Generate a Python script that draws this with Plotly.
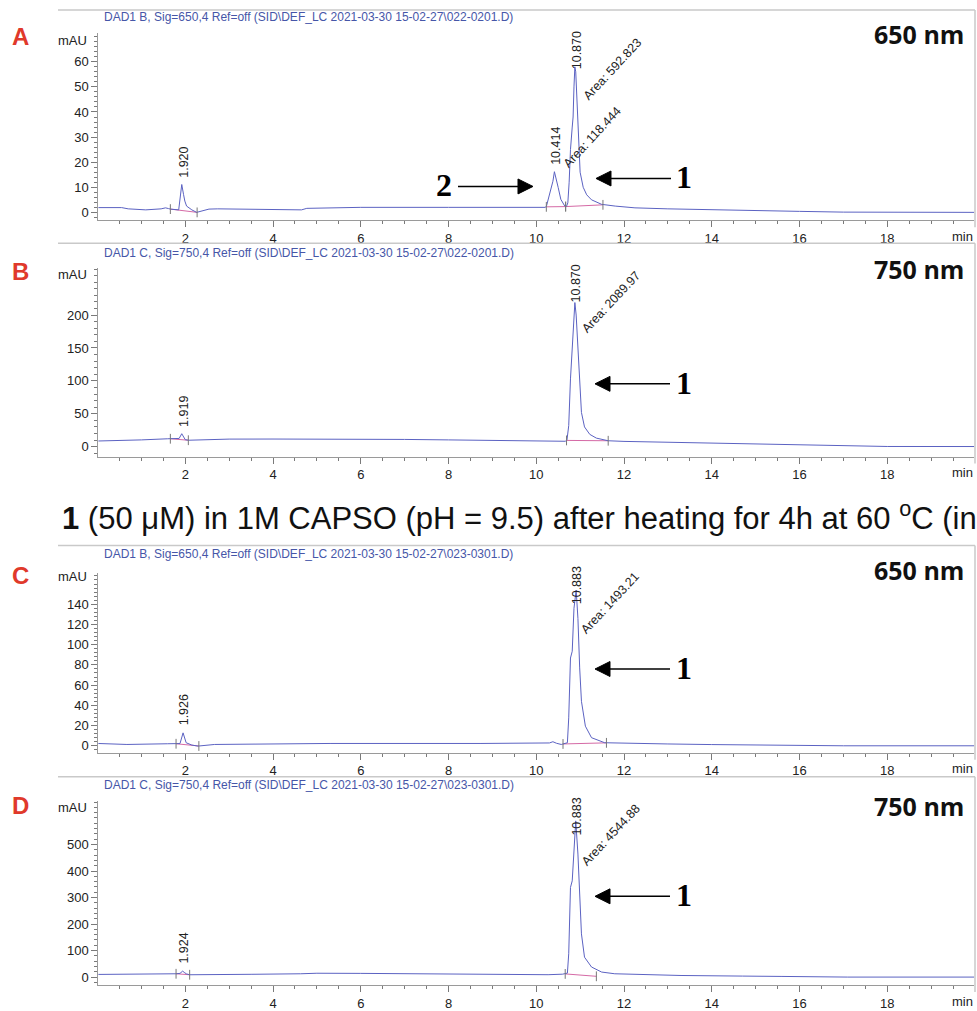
import plotly.graph_objects as go

W, H = 977, 1011

# ---------------- data ----------------
# Panel A : DAD1 B 650 nm, run 022-0201
a_time = [0.00, 0.55, 0.70, 1.10, 1.45, 1.55, 1.62, 1.66, 1.85, 1.92, 1.96, 1.99, 2.03, 2.15, 2.26, 2.35,
          2.54, 2.74, 3.90, 4.65, 4.77, 5.30, 6.00, 8.00, 10.00, 10.20, 10.23, 10.28, 10.33, 10.38, 10.414,
          10.45, 10.50, 10.56, 10.65, 10.69, 10.72, 10.75, 10.78, 10.82, 10.84, 10.86, 10.88, 10.90, 10.93,
          10.95, 10.97, 11.00, 11.07, 11.15, 11.26, 11.49, 11.80, 12.00, 12.25, 13.00, 14.00, 15.00, 16.00,
          17.00, 18.00, 20.00]
a_mau = [1.9, 1.9, 1.4, 1.0, 1.4, 1.8, 1.5, 1.3, 1.0, 11.1, 7.2, 4.5, 2.5, 1.0, 0.0, 0.4,
         1.3, 1.4, 1.0, 1.0, 1.6, 1.8, 2.0, 2.0, 2.0, 2.0, 2.3, 5.5, 9.0, 12.4, 16.2,
         14.0, 9.9, 5.2, 2.5, 2.4, 3.8, 12.0, 25.0, 34.0, 38.0, 50.0, 58.0, 56.0, 45.0,
         38.0, 25.0, 16.0, 10.0, 7.0, 5.0, 3.2, 2.5, 2.2, 1.8, 1.4, 1.0, 0.7, 0.4,
         0.1, 0.0, 0.0]

# Panel B : DAD1 C 750 nm, run 022-0201
b_time = [0.00, 0.50, 1.00, 1.60, 1.75, 1.86, 1.92, 1.96, 2.00, 2.08, 2.50, 3.00, 4.00, 5.00, 6.00,
          7.00, 8.00, 9.00, 10.00, 10.50, 10.66, 10.70, 10.74, 10.78, 10.82, 10.86, 10.88, 10.91, 10.95,
          10.99, 11.03, 11.10, 11.22, 11.37, 11.64, 12.00, 13.00, 14.00, 15.00, 16.00, 17.00, 18.00, 20.00]
b_mau = [8.6, 9.3, 10.3, 12.0, 12.0, 12.5, 19.7, 14.0, 10.6, 9.8, 10.6, 11.5, 11.6, 11.6, 11.4,
         11.0, 10.3, 9.5, 9.0, 8.5, 8.2, 10.0, 32.0, 103.0, 143.0, 189.0, 219.0, 200.0, 148.0,
         98.0, 52.0, 30.0, 18.7, 13.0, 9.0, 8.0, 6.8, 5.3, 3.8, 2.5, 1.2, 0.3, 0.2]

# Panel C : DAD1 B 650 nm, run 023-0301
c_time = [0.00, 0.67, 1.60, 1.78, 1.88, 1.95, 1.99, 2.02, 2.15, 2.29, 2.67, 3.50, 5.30, 8.74, 10.00,
          10.30, 10.38, 10.46, 10.57, 10.71, 10.74, 10.78, 10.82, 10.86, 10.91, 10.95, 10.99, 11.03,
          11.12, 11.26, 11.56, 12.00, 13.00, 14.00, 15.60, 17.00, 20.00]
c_mau = [2.3, 1.3, 2.0, 2.0, 2.2, 12.8, 7.0, 3.0, 0.7, -0.3, 1.3, 1.6, 2.3, 2.3, 2.3,
         2.8, 4.0, 2.5, 1.3, 3.0, 27.6, 86.8, 93.5, 136.0, 154.0, 126.0, 77.0, 44.0,
         19.4, 8.0, 3.0, 2.5, 1.8, 1.2, 0.3, 0.0, 0.0]

# Panel D : DAD1 C 750 nm, run 023-0301
d_time = [0.00, 0.70, 1.72, 1.79, 1.88, 1.94, 1.99, 2.03, 2.10, 2.40, 3.50, 4.63, 5.00, 6.00, 8.00,
          8.74, 10.27, 10.60, 10.71, 10.74, 10.78, 10.82, 10.86, 10.90, 10.95, 10.99, 11.03, 11.10,
          11.26, 11.49, 11.79, 13.30, 13.77, 14.70, 15.60, 17.10, 20.00]
d_mau = [10.0, 10.0, 12.5, 12.5, 14.0, 22.5, 16.0, 12.0, 8.8, 8.8, 10.5, 12.5, 14.5, 14.0, 11.0,
         10.0, 9.0, 11.0, 15.0, 88.0, 338.0, 363.0, 501.0, 589.0, 464.0, 288.0, 163.0, 75.0,
         38.0, 19.0, 12.5, 6.0, 6.0, 3.8, 2.5, 0.0, 0.0]

# integration baselines: (start min, start mAU, end min, end mAU)
a_integ = [(1.66, 1.3, 2.27, 0.0), (10.23, 2.2, 10.67, 2.3), (10.67, 2.3, 11.52, 3.0)]
b_integ = [(1.66, 12.0, 2.07, 9.8), (10.69, 9.5, 11.64, 9.0)]
c_integ = [(1.79, 2.0, 2.31, -0.2), (10.61, 1.8, 11.60, 2.9)]
d_integ = [(1.79, 12.5, 2.10, 8.8), (10.66, 12.0, 11.37, 3.0)]

# peak retention-time labels and area labels
a_rt = ["1.920", "10.414", "10.870"]
b_rt = ["1.919", "10.870"]
c_rt = ["1.926", "10.883"]
d_rt = ["1.924", "10.883"]
a_area = ["Area: 592.823", "Area: 118.444"]
b_area = ["Area: 2089.97"]
c_area = ["Area: 1493.21"]
d_area = ["Area: 4544.88"]

x_ticks = [2, 4, 6, 8, 10, 12, 14, 16, 18]
a_yticks = [0, 10, 20, 30, 40, 50, 60]
b_yticks = [0, 50, 100, 150, 200]
c_yticks = [0, 20, 40, 60, 80, 100, 120, 140]
d_yticks = [0, 100, 200, 300, 400, 500]

headers = [
    r"DAD1 B, Sig=650,4 Ref=off (SID\DEF_LC 2021-03-30 15-02-27\022-0201.D)",
    r"DAD1 C, Sig=750,4 Ref=off (SID\DEF_LC 2021-03-30 15-02-27\022-0201.D)",
    r"DAD1 B, Sig=650,4 Ref=off (SID\DEF_LC 2021-03-30 15-02-27\023-0301.D)",
    r"DAD1 C, Sig=750,4 Ref=off (SID\DEF_LC 2021-03-30 15-02-27\023-0301.D)",
]
letters = ["A", "B", "C", "D"]
wavelengths = ["650 nm", "750 nm", "650 nm", "750 nm"]
caption = "<b>1</b> (50 \u03bcM) in 1M CAPSO (pH = 9.5) after heating for 4h at 60 <sup>o</sup>C (in"

# ---------------- layout geometry (pixels) ----------------
TRACE = "#5b62c2"
PINK = "#d56aa6"
AXIS = "#9a9a9a"
TICK = "#7a7a7a"
FRAME = "#c9c9c9"
SANS = "Liberation Sans, Arial, sans-serif"
SERIF = "Liberation Serif, Times New Roman, serif"

def px2x(x):
    return x / W

def px2y(y):
    return 1 - y / H

XL, XR = 98.4, 974.1          # plot left/right pixels
XRANGE = [0.02, 19.98]

panels = [
    dict(t=a_time, v=a_mau, integ=a_integ, rt=a_rt, area=a_area, yt=a_yticks, minor=2,
         frame=10, top=33, bot=221, zero=213, scale=2.517, head=17, mau=41, letter=37, nm=34,
         rt_pos=[(1.920, 13.1), (10.414, 18.3), (10.870, 56.4)],
         area_pos=[(11.74, 57.2), (11.28, 30.2)],
         arrows=[((596, 179), -1, "1", 684)]),
    dict(t=b_time, v=b_mau, integ=b_integ, rt=b_rt, area=b_area, yt=b_yticks, minor=10,
         frame=244, top=269, bot=458, zero=448, scale=0.66, head=254, mau=275, letter=272, nm=270,
         rt_pos=[(1.919, 27.3), (10.870, 216.7)],
         area_pos=[(11.71, 219.7)],
         arrows=[((595, 385), -1, "1", 684)]),
    dict(t=c_time, v=c_mau, integ=c_integ, rt=c_rt, area=c_area, yt=c_yticks, minor=4,
         frame=547, top=575, bot=755, zero=748, scale=1.014, head=556, mau=578, letter=577, nm=572,
         rt_pos=[(1.926, 17.8), (10.883, 138.0)],
         area_pos=[(11.69, 141.0)],
         arrows=[((595, 671), -1, "1", 684)]),
    dict(t=d_time, v=d_mau, integ=d_integ, rt=d_rt, area=d_area, yt=d_yticks, minor=20,
         frame=779, top=803, bot=988, zero=980, scale=0.266, head=787, mau=810, letter=808, nm=808,
         rt_pos=[(1.924, 45.0), (10.883, 526.0)],
         area_pos=[(11.71, 534.0)],
         arrows=[((595, 899), -1, "1", 684)]),
]
# arrow for compound 2 in panel A (points right)
panels[0]["arrows"].append(((533, 187), 1, "2", 444))

fig = go.Figure()
layout = dict(width=W, height=H, margin=dict(l=0, r=0, t=0, b=0), autosize=False,
              paper_bgcolor="white", plot_bgcolor="white", showlegend=False)
annotations = []
shapes = []

ARROW_LEN = 75
HEAD_LEN = 15
HEAD_HALF = 7.5

for i, p in enumerate(panels, start=1):
    xa = "x" if i == 1 else f"x{i}"
    ya = "y" if i == 1 else f"y{i}"
    xkey = "xaxis" if i == 1 else f"xaxis{i}"
    ykey = "yaxis" if i == 1 else f"yaxis{i}"

    for (s, ys, e, ye) in p["integ"]:
        fig.add_trace(go.Scatter(x=[s, e], y=[ys, ye], mode="lines", xaxis=xa, yaxis=ya,
                                 line=dict(color=PINK, width=1), hoverinfo="skip"))
    fig.add_trace(go.Scatter(x=p["t"], y=p["v"], mode="lines", xaxis=xa, yaxis=ya,
                             line=dict(color=TRACE, width=1), hoverinfo="skip"))
    ev_x = [s for (s, ys, e, ye) in p["integ"]] + [e for (s, ys, e, ye) in p["integ"]]
    ev_y = [ys for (s, ys, e, ye) in p["integ"]] + [ye for (s, ys, e, ye) in p["integ"]]
    fig.add_trace(go.Scatter(x=ev_x, y=ev_y, mode="markers", xaxis=xa, yaxis=ya, hoverinfo="skip",
                             marker=dict(symbol="line-ns", size=7, color="#777",
                                         line=dict(color="#777", width=1))))

    yr = [(p["zero"] - p["bot"]) / p["scale"], (p["zero"] - p["top"]) / p["scale"]]
    layout[xkey] = dict(domain=[XL / W, XR / W], range=XRANGE, anchor=ya,
                        showline=True, linecolor=AXIS, linewidth=1, mirror=False,
                        ticks="outside", ticklen=6, tickwidth=1, tickcolor=TICK,
                        tickmode="array", tickvals=x_ticks, ticktext=[str(v) for v in x_ticks],
                        tickfont=dict(family=SANS, size=13, color="#222"),
                        showgrid=False, zeroline=False, fixedrange=True,
                        minor=dict(tickmode="linear", tick0=0, dtick=0.5, ticks="outside",
                                   ticklen=3, tickwidth=1, tickcolor=TICK, showgrid=False))
    layout[ykey] = dict(domain=[px2y(p["bot"]), px2y(p["top"])], range=yr, anchor=xa,
                        showline=True, linecolor=AXIS, linewidth=1,
                        ticks="outside", ticklen=6, tickwidth=1, tickcolor=TICK,
                        tickmode="array", tickvals=p["yt"], ticktext=[str(v) for v in p["yt"]],
                        tickfont=dict(family=SANS, size=13, color="#222"),
                        showgrid=False, zeroline=False, fixedrange=True,
                        minor=dict(tickmode="linear", tick0=0, dtick=p["minor"], ticks="outside",
                                   ticklen=3, tickwidth=1, tickcolor=TICK, showgrid=False))

    # frame lines
    shapes.append(dict(type="line", xref="paper", yref="paper", x0=px2x(58), x1=px2x(975),
                       y0=px2y(p["frame"]), y1=px2y(p["frame"]), line=dict(color=FRAME, width=1.5)))
    shapes.append(dict(type="line", xref="paper", yref="paper", x0=px2x(975), x1=px2x(975),
                       y0=px2y(p["frame"]), y1=px2y(p["bot"] + 7), line=dict(color=FRAME, width=1.5)))

    # header
    annotations.append(dict(text=headers[i - 1], x=px2x(102), y=px2y(p["head"]), xref="paper", yref="paper",
                            xanchor="left", yanchor="middle", showarrow=False,
                            font=dict(family=SANS, size=12, color="#4656a8")))
    # mAU
    annotations.append(dict(text="mAU", x=px2x(89), y=px2y(p["mau"]), xref="paper", yref="paper",
                            xanchor="right", yanchor="middle", showarrow=False,
                            font=dict(family=SANS, size=13, color="#222")))
    # min
    annotations.append(dict(text="min", x=px2x(975), y=px2y(p["bot"] + 16), xref="paper", yref="paper",
                            xanchor="right", yanchor="middle", showarrow=False,
                            font=dict(family=SANS, size=13, color="#222")))
    # panel letter
    annotations.append(dict(text=f"<b>{letters[i - 1]}</b>", x=px2x(20), y=px2y(p["letter"]),
                            xref="paper", yref="paper", xanchor="center", yanchor="middle",
                            showarrow=False, font=dict(family=SANS, size=24, color="#e0392b")))
    # wavelength
    annotations.append(dict(text=f"<b>{wavelengths[i - 1]}</b>", x=px2x(966), y=px2y(p["nm"]),
                            xref="paper", yref="paper", xanchor="right", yanchor="middle",
                            showarrow=False, font=dict(family="Open Sans, sans-serif", size=25, color="#111")))
    # retention-time labels
    for txt, (rx, ry) in zip(p["rt"], p["rt_pos"]):
        annotations.append(dict(text=txt, x=rx, y=ry, xref=xa, yref=ya, textangle=-90,
                                xanchor="center", yanchor="bottom", xshift=2, showarrow=False,
                                font=dict(family=SANS, size=12.5, color="#222")))
    for txt, (ax_, ay_) in zip(p["area"], p["area_pos"]):
        annotations.append(dict(text=txt, x=ax_, y=ay_, xref=xa, yref=ya, textangle=-47,
                                xanchor="center", yanchor="middle", showarrow=False,
                                font=dict(family=SANS, size=12.5, color="#222")))
    # arrows with compound numbers (drawn as shapes)
    for tip, direction, lab, labx in p["arrows"]:
        tx, ty = tip
        # direction = -1 : head points left (tail to the right); +1 : head points right
        tail_x = tx - direction * ARROW_LEN
        base_x = tx - direction * HEAD_LEN
        shapes.append(dict(type="line", xref="paper", yref="paper",
                           x0=px2x(tail_x), x1=px2x(base_x), y0=px2y(ty), y1=px2y(ty),
                           line=dict(color="black", width=1.5)))
        path = (f"M {px2x(tx):.5f},{px2y(ty):.5f} "
                f"L {px2x(base_x):.5f},{px2y(ty - HEAD_HALF):.5f} "
                f"L {px2x(base_x):.5f},{px2y(ty + HEAD_HALF):.5f} Z")
        shapes.append(dict(type="path", xref="paper", yref="paper", path=path,
                           fillcolor="black", line=dict(color="black", width=1)))
        annotations.append(dict(text=f"<b>{lab}</b>", x=px2x(labx), y=px2y(ty - 1), xref="paper",
                                yref="paper", xanchor="center", yanchor="middle", showarrow=False,
                                font=dict(family=SERIF, size=32, color="black")))

# caption between the two runs
annotations.append(dict(text=caption, x=px2x(60), y=px2y(518), xref="paper", yref="paper",
                        xanchor="left", yanchor="middle", showarrow=False,
                        font=dict(family=SANS, size=31, color="#111")))

layout["annotations"] = annotations
layout["shapes"] = shapes
fig.update_layout(**layout)
fig.write_html("out.html")
